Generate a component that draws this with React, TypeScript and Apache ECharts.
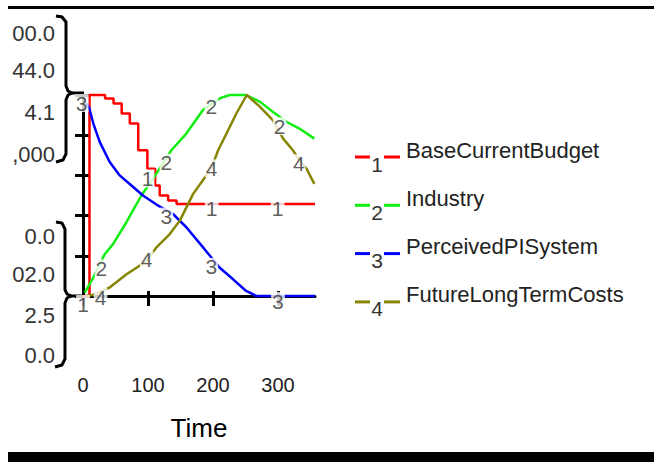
import React, { useEffect, useRef } from "react";
import * as echarts from "echarts";

const seriesNames = ["BaseCurrentBudget", "Industry", "PerceivedPISystem", "FutureLongTermCosts"];
const seriesColors = ["#ff0000", "#11ee11", "#0000ff", "#858500"];
const seriesDigits = ["1", "2", "3", "4"];
const xTicks = [0, 100, 200, 300];
const xMax = 357;
const topScaleLabels = ["00.0", "44.0", "4.1", ",000"];
const bottomScaleLabels = ["0.0", "02.0", "2.5", "0.0"];
const axisTitle = "Time";

// values normalised to each variable's own scale (0 = bottom, 100 = top of plot)
const baseCurrentBudget = [
  [0, 0], [10, 100], [34, 98.3], [47, 95.8], [59.5, 90.8], [72, 85.8], [85, 72.5],
  [99, 63.3], [111, 55], [118, 50], [131, 47.5], [144, 45.8], [357, 45.8],
];
const industry = [
  [2.6, 1.7], [15.8, 9.2], [33.4, 20.8], [46.2, 25.8], [66.8, 36.7], [89.8, 50],
  [107.7, 58.3], [136, 72.5], [159, 80.8], [184.6, 92.5], [210, 98.3], [225.7, 100],
  [251, 100], [272, 96.7], [292, 91.7], [313, 86.7], [333, 83.3], [356, 78.3],
];
const perceivedPISystem = [
  [5, 96], [9.8, 93.3], [15.9, 85.8], [25.7, 76.7], [41.1, 66.7], [56.5, 60], [74.5, 55],
  [92.3, 50], [113, 45.5], [138.5, 40.8], [159, 34.2], [187, 23.3], [210, 14.2],
  [231, 8.3], [251, 2.5], [267, 0], [357, 0],
];
const futureLongTermCosts = [
  [5, 0], [15, 0.5], [41, 4.2], [67, 10.8], [83, 14.2], [98, 17.5], [113, 24.2],
  [133.5, 30.8], [149, 37.5], [169.5, 50.8], [188, 59.2], [198, 64], [208, 72.5],
  [221, 81], [236, 90.8], [252, 100], [272, 94.2], [292, 87.5], [308, 78.3],
  [323, 72.5], [332, 68], [344, 63.3], [356, 55.8],
];

const budgetMarks = [[0, -4], [99.5, 58.5], [198, 43.5], [299.5, 43.5]];
const industryMarks = [[28.3, 13.8], [128.3, 66.3], [197.5, 94.2], [302.6, 84.5]];
const perceivedMarks = [[-2, 96], [128.3, 39.5], [197.5, 14.5], [300, -2.5]];
const futureMarks = [[27, -0.5], [98, 18], [198, 63.5], [332, 66]];

const seriesData = [baseCurrentBudget, industry, perceivedPISystem, futureLongTermCosts];
const seriesMarks = [budgetMarks, industryMarks, perceivedMarks, futureMarks];

const FONT = "'Liberation Sans', Arial, Helvetica, sans-serif";

function txt(text: string, x: number, y: number, size: number, align: string, fill = "#222") {
  return {
    type: "text",
    x,
    y,
    silent: true,
    style: {
      text,
      fontSize: size,
      fontFamily: FONT,
      fill,
      align,
      textAlign: align,
      verticalAlign: "middle",
      textVerticalAlign: "middle",
    },
  };
}

export default function App() {
  const ref = useRef<HTMLDivElement>(null);
  useEffect(() => {
    if (!ref.current) return;
    const chart = echarts.init(ref.current, null, { renderer: "svg" });

    const graphic: any[] = [
      { type: "rect", shape: { x: 8, y: 6, width: 646, height: 3 }, style: { fill: "#000" } },
      { type: "rect", shape: { x: 8, y: 452, width: 646, height: 10 }, style: { fill: "#000" } },
      {
        type: "polyline",
        shape: { points: [[56, 16], [62, 17], [66, 22], [66, 86], [68, 91], [72, 93], [68, 95], [66, 100], [66, 154], [63, 160], [56, 162]] },
        style: { stroke: "#000", lineWidth: 3, fill: null },
      },
      {
        type: "polyline",
        shape: { points: [[56, 222], [62, 223], [65, 229], [65, 290], [67, 294], [71, 296], [67, 298], [65, 303], [65, 359], [62, 365], [55, 367]] },
        style: { stroke: "#000", lineWidth: 3, fill: null },
      },
      { type: "line", shape: { x1: 71, y1: 93, x2: 84, y2: 93 }, style: { stroke: "#000", lineWidth: 3 } },
      { type: "line", shape: { x1: 70, y1: 296, x2: 84, y2: 296 }, style: { stroke: "#000", lineWidth: 3 } },
    ];
    const topY = [33, 70, 112, 154];
    const botY = [236, 274, 315, 355];
    topScaleLabels.forEach((t, i) => graphic.push(txt(t, 55, topY[i], 22, "right", "#333")));
    bottomScaleLabels.forEach((t, i) => graphic.push(txt(t, 55, botY[i], 22, "right", "#333")));
    seriesNames.forEach((name, i) => {
      const ly = 157 + i * 48.3;
      graphic.push({ type: "line", shape: { x1: 355, y1: ly, x2: 370, y2: ly }, style: { stroke: seriesColors[i], lineWidth: 3 } });
      graphic.push({ type: "line", shape: { x1: 384, y1: ly, x2: 400, y2: ly }, style: { stroke: seriesColors[i], lineWidth: 3 } });
      graphic.push(txt(seriesDigits[i], 377, ly + 7, 21, "center", "#333"));
      graphic.push(txt(name, 406, ly - 7, 22, "left", "#222"));
    });

    const series: any[] = [];
    seriesNames.forEach((name, i) => {
      series.push({
        type: "line",
        name,
        data: seriesData[i],
        symbol: "none",
        showSymbol: false,
        step: i === 0 ? "end" : false,
        lineStyle: { color: seriesColors[i], width: 2.5 },
        itemStyle: { color: seriesColors[i] },
        clip: false,
        silent: true,
        z: 2,
      });
    });
    seriesNames.forEach((name, i) => {
      series.push({
        type: "scatter",
        name: name + " marks",
        data: seriesMarks[i],
        symbol: "circle",
        symbolSize: 1,
        itemStyle: { color: "rgba(0,0,0,0)" },
        clip: false,
        silent: true,
        z: 4,
        label: {
          show: true,
          position: "inside",
          formatter: seriesDigits[i],
          fontSize: 21,
          fontFamily: FONT,
          color: "#333",
          backgroundColor: "#fff",
          padding: [0, 1],
          lineHeight: 18,
        },
      });
    });

    chart.setOption({
      animation: false,
      backgroundColor: "#fff",
      graphic,
      grid: { left: 83, top: 95, width: 232, height: 201, containLabel: false },
      xAxis: [
        {
          type: "value",
          min: 0,
          max: xMax,
          name: axisTitle,
          nameLocation: "middle",
          nameGap: 119,
          nameTextStyle: { fontSize: 26, fontFamily: FONT, color: "#000" },
          axisLine: { show: true, lineStyle: { color: "#000", width: 3 } },
          axisTick: { show: true, inside: false, length: 10, customValues: xTicks, lineStyle: { color: "#000", width: 3 } },
          axisLabel: { show: true, customValues: xTicks, margin: 79, fontSize: 20, fontFamily: FONT, color: "#222" },
          splitLine: { show: false },
        },
        {
          type: "value",
          min: 0,
          max: xMax,
          position: "bottom",
          axisLine: { show: false },
          axisTick: { show: true, inside: true, length: 5, customValues: xTicks, lineStyle: { color: "#000", width: 3 } },
          axisLabel: { show: false },
          splitLine: { show: false },
        },
      ],
      yAxis: [
        {
          type: "value",
          min: 0,
          max: 100,
          interval: 20,
          axisLine: { show: true, lineStyle: { color: "#000", width: 3 } },
          axisTick: { show: true, inside: false, length: 8, lineStyle: { color: "#000", width: 3 } },
          axisLabel: { show: false },
          splitLine: { show: false },
        },
        {
          type: "value",
          min: 0,
          max: 100,
          interval: 20,
          position: "left",
          axisLine: { show: false },
          axisTick: { show: true, inside: true, length: 7, lineStyle: { color: "#000", width: 3 } },
          axisLabel: { show: false },
          splitLine: { show: false },
        },
      ],
      series,
    });
    return () => chart.dispose();
  }, []);
  return (
    <div
      ref={ref}
      style={{ position: "absolute", left: 0, top: 0, width: 654, height: 462, background: "#fff" }}
    />
  );
}
